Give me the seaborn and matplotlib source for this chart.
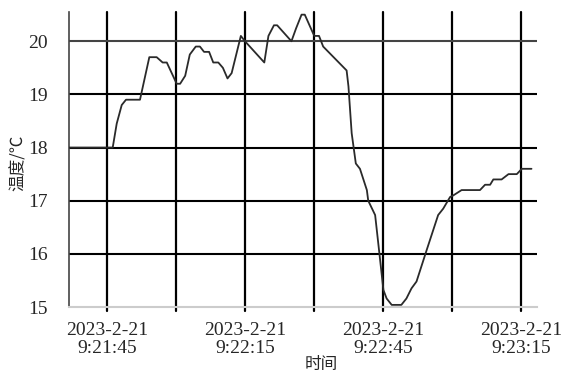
import numpy as np
import pandas as pd
import matplotlib
matplotlib.use("Agg")
import matplotlib.pyplot as plt
import seaborn as sns

# seconds after 9:21:45 and temperature readings
secs = [-8.26, 1.24, 2.11, 3.2, 4.13, 7.17, 9.2, 10.8, 12.1, 13.0, 15.15, 15.9, 17.0, 18.0,
        19.3, 20.2, 21.1, 22.2, 23.1, 24.2, 25.2, 26.2, 27.1, 29.1, 30.0, 34.2, 35.1, 36.3,
        37.0, 40.1, 41.1, 42.3, 43.0, 44.8, 45.1, 46.1, 47.0, 52.1, 52.5, 53.2, 54.1, 55.0,
        56.5, 56.8, 58.3, 59.3, 60.1, 60.8, 61.9, 64.0, 65.1, 66.2, 67.3, 69.5, 72.0, 73.1,
        74.6, 75.3, 77.1, 81.1, 82.2, 83.3, 84.0, 85.8, 87.3, 89.1, 90.2, 92.3]
temp = [18.0, 18.0, 18.45, 18.8, 18.9, 18.9, 19.7, 19.7, 19.6, 19.6, 19.2, 19.2, 19.35, 19.75,
        19.9, 19.9, 19.8, 19.8, 19.6, 19.6, 19.5, 19.3, 19.4, 20.1, 20.0, 19.6, 20.1, 20.3,
        20.3, 20.0, 20.24, 20.5, 20.5, 20.15, 20.1, 20.1, 19.9, 19.45, 19.15, 18.27, 17.7, 17.6,
        17.2, 17.0, 16.73, 15.95, 15.32, 15.16, 15.04, 15.04, 15.16, 15.35, 15.48, 16.07, 16.73, 16.85,
        17.07, 17.1, 17.2, 17.2, 17.3, 17.3, 17.4, 17.4, 17.5, 17.5, 17.6, 17.6]

tick_pos = [0, 30, 60, 90]
tick_labels = ["2023-2-21\n9:21:45", "2023-2-21\n9:22:15", "2023-2-21\n9:22:45", "2023-2-21\n9:23:15"]
grid_x = [0, 15, 30, 45, 60, 75, 90]
yticks = [15, 16, 17, 18, 19, 20]

df = pd.DataFrame({"t": secs, "temp": temp})

sns.set_style("white")
plt.rcParams['font.family'] = ['Liberation Serif', 'Noto Sans CJK SC', 'DejaVu Sans']

fig = plt.figure(figsize=(5.69, 3.75), dpi=100)
ax = fig.add_axes([0.1213, 0.1813, 0.8225, 0.7867])

# grid
for gx in grid_x:
    ax.axvline(gx, ymin=-0.015, color="black", lw=1.6, zorder=1, clip_on=False)
for gy in yticks[1:]:
    ax.axhline(gy, color="#444444" if gy == 20 else "black", lw=1.5, zorder=1)

sns.lineplot(data=df, x="t", y="temp", ax=ax, color="#2a2a2a", lw=1.3, zorder=3)

ax.set_xlim(-8.26, 93.5)
ax.set_ylim(15, 20.55)
ax.set_xticks(tick_pos)
ax.set_xticklabels(tick_labels, fontsize=14, linespacing=1.05)
ax.set_yticks(yticks)
ax.set_yticklabels([str(v) for v in yticks], fontsize=14)
ax.set_yticks(np.arange(15, 20.55, 0.2), minor=True)
ax.tick_params(axis="x", which="both", length=0, pad=11)
ax.tick_params(axis="y", which="major", length=3, width=1, color="#444444", pad=12)
ax.tick_params(axis="y", which="minor", length=2, width=0.6, color="#777777")

for s in ["top", "right"]:
    ax.spines[s].set_visible(False)
ax.spines["left"].set_color("#444444")
ax.spines["left"].set_linewidth(1.2)
ax.spines["bottom"].set_color("#cccccc")
ax.spines["bottom"].set_linewidth(1.5)

ax.set_xlabel("")
ax.set_ylabel("")
fig.text(0.032, 0.565, "温度/℃", rotation=90, ha="center", va="center", fontsize=12,
         family=['Noto Sans CJK SC', 'DejaVu Sans'])
fig.text(0.565, 0.004, "时间", ha="center", va="bottom", fontsize=12,
         family=['Noto Sans CJK SC', 'DejaVu Sans'])

fig.savefig("out.png", dpi=100)
